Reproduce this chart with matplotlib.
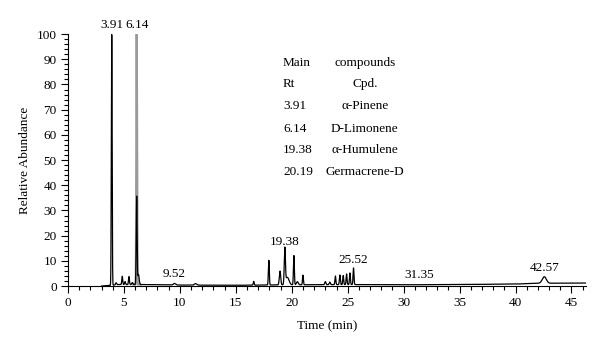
import numpy as np
import matplotlib
matplotlib.use("Agg")
import matplotlib.pyplot as plt
from matplotlib.ticker import MultipleLocator

plt.rcParams['font.family'] = ['Liberation Serif', 'DejaVu Serif']

# Peaks of the total ion chromatogram: retention time (min), relative abundance
peak_rt = [3.91, 4.30, 4.85, 5.10, 5.45, 5.75, 6.14, 6.30, 9.52, 11.40,
           16.60, 17.95, 18.95, 19.38, 19.60, 20.19, 20.50, 21.00,
           23.00, 23.40, 23.90, 24.30, 24.60, 24.90, 25.20, 25.52, 42.57]
peak_height = [99.5, 0.8, 3.3, 1.2, 3.2, 0.8, 35.0, 4.0, 0.6, 0.6,
               1.5, 9.8, 5.5, 14.0, 3.0, 11.6, 1.2, 3.8,
               1.2, 1.0, 3.4, 3.8, 3.6, 4.2, 4.6, 6.6, 2.6]
peak_width = [0.035, 0.05, 0.04, 0.04, 0.04, 0.05, 0.04, 0.06, 0.10, 0.10,
              0.04, 0.04, 0.06, 0.05, 0.15, 0.04, 0.08, 0.04,
              0.05, 0.05, 0.04, 0.04, 0.04, 0.04, 0.04, 0.04, 0.18]

# Overlaid trace of the limonene peak (grey)
overlay_rt = 6.14
overlay_height = 100.0

# Baseline level through the run
base_t = [3.0, 3.9, 4.5, 6.6, 10.0, 15.0, 20.0, 25.0, 30.0, 35.0, 40.0, 42.0, 46.3]
base_y = [0.0, 0.3, 0.6, 0.6, 0.4, 0.3, 0.5, 0.6, 0.5, 0.6, 0.8, 1.1, 1.2]

# Labelled retention times
label_rt = [3.91, 6.14, 9.52, 19.38, 25.52, 31.35, 42.57]
label_y = [100.0, 100.0, 1.2, 14.0, 7.0, 0.8, 3.6]

# Main compounds table
table_rt = ["3.91", "6.14", "19.38", "20.19"]
table_cpd = ["α-Pinene", "D-Limonene", "α-Humulene", "Germacrene-D"]

t = np.linspace(3.0, 46.3, 20000)
signal = np.interp(t, base_t, base_y)
for rt, h, w in zip(peak_rt, peak_height, peak_width):
    signal = signal + h * np.exp(-0.5 * ((t - rt) / w) ** 2)

fig = plt.figure(figsize=(6.0, 3.48), dpi=100)
ax = fig.add_axes([0.1133, 0.178, 0.8634, 0.724])

ov = np.interp(t, base_t, base_y) + overlay_height * np.exp(-0.5 * ((t - overlay_rt) / 0.03) ** 2)
mask = np.abs(t - overlay_rt) < 0.3
ax.plot(t[mask], ov[mask], color='#9a9a9a', lw=1.6, zorder=1)
ax.plot(t, signal, color='black', lw=0.9, zorder=2)

ax.set_xlim(0, 46.3)
ax.set_ylim(0, 100)
ax.spines['top'].set_visible(False)
ax.spines['right'].set_visible(False)
ax.xaxis.set_major_locator(MultipleLocator(5))
ax.xaxis.set_minor_locator(MultipleLocator(1))
ax.yaxis.set_major_locator(MultipleLocator(10))
ax.yaxis.set_minor_locator(MultipleLocator(2))
ax.tick_params(axis='both', which='major', length=5, width=0.8, labelsize=9.5, pad=3)
ax.tick_params(axis='both', which='minor', length=3, width=0.8)
ax.set_xlabel("Time (min)", fontsize=9.5, labelpad=8)
ax.set_ylabel("Relative Abundance", fontsize=9.5, labelpad=4)

for rt, y in zip(label_rt, label_y):
    ax.annotate(f"{rt:.2f}", xy=(rt, y), xytext=(0, 2), textcoords='offset points',
                ha='center', va='bottom', fontsize=9.5, annotation_clip=False)

# Table of main compounds
col1_x, col2_x = 0.415, 0.573
row_y = [0.885, 0.800, 0.714, 0.625, 0.540, 0.452]
ax.text(col1_x, row_y[0], "Main", transform=ax.transAxes, fontsize=9.5, va='center', ha='left')
ax.text(col2_x, row_y[0], "compounds", transform=ax.transAxes, fontsize=9.5, va='center', ha='center')
ax.text(col1_x, row_y[1], "Rt", transform=ax.transAxes, fontsize=9.5, va='center', ha='left')
ax.text(col2_x, row_y[1], "Cpd.", transform=ax.transAxes, fontsize=9.5, va='center', ha='center')
for i, (r, c) in enumerate(zip(table_rt, table_cpd)):
    ax.text(col1_x, row_y[i + 2], r, transform=ax.transAxes, fontsize=9.5, va='center', ha='left')
    ax.text(col2_x, row_y[i + 2], c, transform=ax.transAxes, fontsize=9.5, va='center', ha='center')

fig.savefig("out.png", dpi=100)
